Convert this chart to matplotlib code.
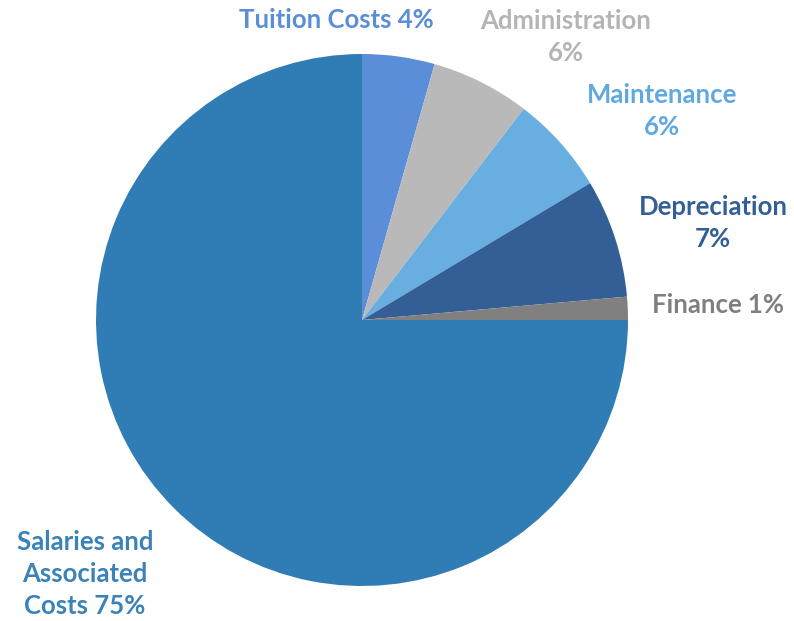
import matplotlib.pyplot as plt

# Data (clockwise from 12 o'clock)
labels = ['Tuition Costs', 'Administration', 'Maintenance', 'Depreciation',
          'Finance', 'Salaries and Associated Costs']
shares = [4.4, 6.0, 6.0, 7.2, 1.4, 75.0]
label_texts = ['Tuition Costs 4%', 'Administration\n6%', 'Maintenance\n6%',
               'Depreciation\n7%', 'Finance 1%',
               'Salaries and\nAssociated\nCosts 75%']
colors = ['#5B8ED8', '#B9B9B9', '#69AEE1', '#335F96', '#808080', '#2F7DB4']
text_colors = ['#5B8ED8', '#B4B4B4', '#5FA9E0', '#335F96', '#7F7F7F', '#3A82B8']

# label centres in pixels of the 794x621 canvas
label_px = [(336, 20), (566, 37), (662, 111), (713, 223), (718, 305), (85, 574)]

plt.rcParams['font.family'] = ['Lato', 'DejaVu Sans']

fig = plt.figure(figsize=(7.94, 6.21), dpi=100)
ax = fig.add_axes([0, 0, 1, 1])

cx, cy, r = 362, 320, 266
ax.pie(shares, colors=colors, startangle=90, counterclock=False,
       radius=1, center=(0, 0), wedgeprops=dict(linewidth=0))

ax.set_xlim(-cx / r, (794 - cx) / r)
ax.set_ylim(-(621 - cy) / r, cy / r)
ax.set_aspect('auto')
ax.axis('off')

for txt, col, (px, py) in zip(label_texts, text_colors, label_px):
    ax.text((px - cx) / r, (cy - py) / r, txt, color=col, fontsize=18.5,
            fontweight='bold', ha='center', va='center', linespacing=1.4)

fig.savefig('out.png', dpi=100)
